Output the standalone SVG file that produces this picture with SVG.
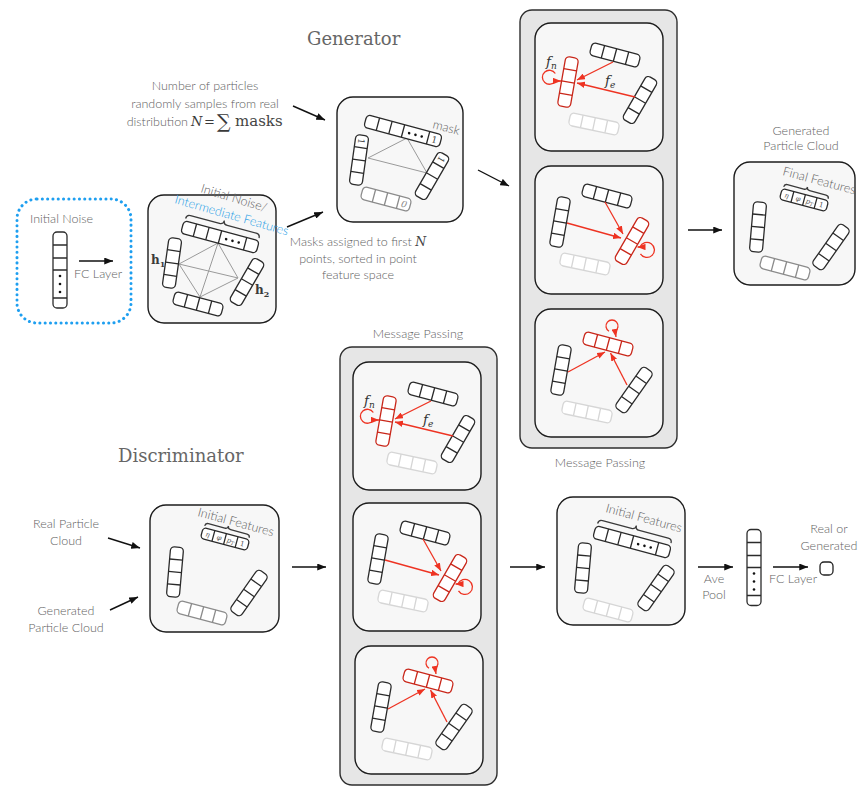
<svg xmlns="http://www.w3.org/2000/svg" xmlns:xlink="http://www.w3.org/1999/xlink" width="860" height="787" viewBox="0 0 860 787">
<style>
.box{fill:#f7f7f7;stroke:#1c1c1c;stroke-width:1.4}
.panel{fill:#e6e6e6;stroke:#2e2e2e;stroke-width:1.4}
.lbl{font-family:Lato,"Open Sans",sans-serif;font-weight:300;font-size:12.5px;fill:#626262}
.ttl{font-family:"DejaVu Serif","Liberation Serif",serif;font-size:18px;fill:#666}
.math{font-family:"DejaVu Serif","Liberation Serif",serif;fill:#3a3a3a}
.cell{font-family:"DejaVu Serif","Liberation Serif",serif;font-size:9px;fill:#444;text-anchor:middle;stroke:none}
.vk{stroke:#2b2b2b;stroke-width:1.3}
.vr{stroke:#c9271a;stroke-width:1.3}
.vf{stroke:#d6d6d6;stroke-width:1.3}
.vg{stroke:#8c8c8c;stroke-width:1.3}
.conn{fill:none;stroke:#111;stroke-width:1.4;marker-end:url(#ah)}
.ra{fill:none;stroke:#ee3322;stroke-width:1.3;marker-end:url(#rah)}
.edge{stroke:#9a9a9a;stroke-width:1}
.brace{fill:none;stroke:#3a3a3a;stroke-width:1.3}
.fl{font-family:"DejaVu Serif","Liberation Serif",serif;font-style:italic;font-size:13.5px;fill:#333}
</style>
<defs>
  <marker id="ah" viewBox="0 0 10 8" refX="10" refY="4" markerWidth="9" markerHeight="7" markerUnits="userSpaceOnUse" orient="auto"><path d="M0,0 L10,4 L0,8 Z" fill="#111"/></marker>
  <marker id="rah" viewBox="0 0 10 8" refX="10" refY="4" markerWidth="8" markerHeight="6.5" markerUnits="userSpaceOnUse" orient="auto"><path d="M0,0 L10,4 L0,8 Z" fill="#ee3322"/></marker>

  <!-- four-cell particle feature vector, centred on the origin -->
  <g id="v4"><rect x="-25" y="-6.5" width="50" height="13" rx="4" fill="#fff"/><path d="M-12.5,-6.5V6.5M0,-6.5V6.5M12.5,-6.5V6.5" fill="none"/></g>
  <!-- long feature vector with ellipsis cell -->
  <g id="v6"><rect x="-39" y="-6.5" width="78" height="13" rx="4" fill="#fff"/><path d="M-26,-6.5V6.5M-13,-6.5V6.5M0,-6.5V6.5M26,-6.5V6.5" fill="none"/><g fill="#111" stroke="none"><circle cx="6.5" cy="0.5" r="1.3"/><circle cx="13" cy="0.5" r="1.3"/><circle cx="19.5" cy="0.5" r="1.3"/></g></g>
  <!-- small vector of input features -->
  <g id="vs"><rect x="-24" y="-5.5" width="48" height="11" rx="3.5" fill="#fff"/><path d="M-12,-5.5V5.5M0,-5.5V5.5M12,-5.5V5.5" fill="none"/>
    <g font-family="'DejaVu Serif','Liberation Serif',serif" font-style="italic" font-size="7" fill="#555" stroke="none" text-anchor="middle"><text x="-18" y="2.5">η</text><text x="-6" y="2.5">φ</text><text x="6" y="2.5">p<tspan font-size="5" dy="1.5">T</tspan></text><text x="18" y="2.5" font-style="normal">1</text></g></g>
  <!-- column vector with ellipsis -->
  <g id="vcol"><rect x="-7" y="-38" width="14" height="76" rx="4" fill="#fff"/><path d="M-7,-25H7M-7,-12H7M-7,0H7M-7,28H7" fill="none"/><g fill="#111" stroke="none"><circle cx="0" cy="6" r="1.3"/><circle cx="0" cy="14" r="1.3"/><circle cx="0" cy="22" r="1.3"/></g></g>
  <path id="br6" class="brace" d="M-38,-9 q0,-4 4,-4 h30 q4,0 4,-4 q0,4 4,4 h30 q4,0 4,4"/>
  <path id="brs" class="brace" d="M-23,-7.5 q0,-3 3,-3 h17 q3,0 3,-3 q0,3 3,3 h17 q3,0 3,3"/>

  <!-- message passing step 1: update of the left particle -->
  <g id="mp1">
    <rect class="box" width="128" height="128" rx="16"/>
    <use href="#v4" class="vf" transform="translate(59,101) rotate(12)"/>
    <use href="#v4" class="vk" transform="translate(80,32) rotate(15)"/>
    <use href="#v4" class="vk" transform="translate(105,77) rotate(120)"/>
    <use href="#v4" class="vr" transform="translate(33,59) rotate(100)"/>
    <path class="ra" d="M78,39 L42,57"/>
    <path class="ra" d="M100,74 L42,60"/>
    <path class="ra" d="M20.3,50.5 A7,7 0 1 0 20.3,58 L26,58"/>
    <text class="fl" x="11" y="43">f<tspan font-size="9" dy="3">n</tspan></text>
    <text class="fl" x="70" y="62">f<tspan font-size="9" dy="3">e</tspan></text>
  </g>
  <!-- message passing step 2: update of the right particle -->
  <g id="mp2">
    <rect class="box" width="128" height="128" rx="16"/>
    <use href="#v4" class="vf" transform="translate(50,98) rotate(12)"/>
    <use href="#v4" class="vk" transform="translate(72,30) rotate(15)"/>
    <use href="#v4" class="vk" transform="translate(25,56) rotate(100)"/>
    <use href="#v4" class="vr" transform="translate(97,75) rotate(120)"/>
    <path class="ra" d="M32,57 L86,72"/>
    <path class="ra" d="M70,36 L88,68"/>
    <path class="ra" d="M105.5,87.8 A7.5,7.5 0 1 0 105,81 L102.5,81"/>
  </g>
  <!-- message passing step 3: update of the top particle -->
  <g id="mp3">
    <rect class="box" width="128" height="128" rx="16"/>
    <use href="#v4" class="vf" transform="translate(52,103) rotate(12)"/>
    <use href="#v4" class="vk" transform="translate(26,61) rotate(100)"/>
    <use href="#v4" class="vk" transform="translate(99,81) rotate(125)"/>
    <use href="#v4" class="vr" transform="translate(73,35) rotate(15)"/>
    <path class="ra" d="M33,63 L70,43"/>
    <path class="ra" d="M92,76 L75.5,44"/>
    <path class="ra" d="M74,22.2 A6,6 0 1 1 80,22.2 L81,28"/>
  </g>
</defs>

<!-- Headings -->
<text class="ttl" x="307" y="45">Generator</text>
<text class="ttl" x="118" y="462">Discriminator</text>

<!-- Generator: noise input -->
<g id="noise-input">
  <rect x="17" y="199" width="114" height="124" rx="20" fill="none" stroke="#1e9ff0" stroke-width="3" stroke-linecap="round" stroke-dasharray="0.1 5.2"/>
  <text class="lbl" x="30" y="223">Initial Noise</text>
  <use href="#vcol" class="vk" transform="translate(60,270)"/>
  <text class="lbl" x="74" y="278">FC Layer</text>
</g>

<!-- Generator: initial / intermediate particle cloud -->
<g id="noise-cloud">
  <g transform="translate(148,195)">
    <rect class="box" width="128" height="128" rx="16"/>
    <g class="edge">
      <line x1="70" y1="48" x2="31" y2="69"/><line x1="70" y1="48" x2="90" y2="83"/><line x1="70" y1="48" x2="52" y2="102"/>
      <line x1="31" y1="69" x2="90" y2="83"/><line x1="31" y1="69" x2="52" y2="102"/><line x1="90" y1="83" x2="52" y2="102"/>
    </g>
    <g transform="translate(72,42) rotate(15)"><use href="#v6" class="vk"/><use href="#br6"/></g>
    <use href="#v4" class="vk" transform="translate(24,68) rotate(98)"/>
    <use href="#v4" class="vk" transform="translate(99,87) rotate(120)"/>
    <use href="#v4" class="vk" transform="translate(50,109) rotate(15)"/>
  </g>
  <text class="lbl" x="200" y="192" font-size="12" transform="rotate(17 200 192)">Initial Noise/</text>
  <text class="lbl" x="174" y="203" font-size="12" style="fill:#1f9de6" transform="rotate(16 174 203)">Intermediate Features</text>
  <text class="math" x="151" y="264" font-weight="bold" font-size="12">h<tspan font-size="8" dy="3">1</tspan></text>
  <text class="math" x="255" y="294" font-weight="bold" font-size="12">h<tspan font-size="8" dy="3">2</tspan></text>
</g>

<!-- Generator: masking of the point cloud -->
<g id="mask-cloud">
  <text class="lbl" x="205" y="90" text-anchor="middle">Number of particles</text>
  <text class="lbl" x="205" y="108" text-anchor="middle">randomly samples from real</text>
  <text class="lbl" x="188" y="126" text-anchor="end">distribution</text>
  <text class="math" x="191" y="126" font-size="13" font-style="italic">N</text>
  <text class="math" x="204" y="126" font-size="13">=</text>
  <text class="math" x="217" y="128" font-size="19">∑</text>
  <text class="math" x="235" y="126" font-size="15" style="fill:#444">masks</text>

  <g transform="translate(337,97)">
    <rect class="box" width="126" height="125" rx="16"/>
    <g class="edge"><line x1="70" y1="41" x2="31" y2="61"/><line x1="70" y1="41" x2="90" y2="76"/><line x1="31" y1="61" x2="90" y2="76"/></g>
    <g transform="translate(66,34) rotate(15)"><use href="#v6" class="vk"/><text class="cell" x="32.5" y="3.5">1</text></g>
    <g transform="translate(22,63) rotate(98)"><use href="#v4" class="vk"/><text class="cell" x="-18.75" y="3.5">1</text></g>
    <g transform="translate(95,79) rotate(120)"><use href="#v4" class="vk"/><text class="cell" x="-18.75" y="3.5">1</text></g>
    <g transform="translate(49,102) rotate(15)"><use href="#v4" class="vg"/><text class="cell" x="18.75" y="3.5" font-style="italic" style="fill:#888">0</text></g>
  </g>
  <text class="lbl" x="432" y="128" font-size="11" transform="rotate(15 432 128)">mask</text>

  <text class="lbl" x="358" y="246" text-anchor="middle">Masks assigned to first <tspan font-family="'DejaVu Serif','Liberation Serif',serif" font-style="italic" fill="#444">N</tspan></text>
  <text class="lbl" x="358" y="263" text-anchor="middle">points, sorted in point</text>
  <text class="lbl" x="358" y="279" text-anchor="middle">feature space</text>
</g>

<!-- Generator: message passing column -->
<g id="gen-mp">
  <rect class="panel" x="520" y="10" width="157" height="438" rx="12"/>
  <use id="gen-mp-1" href="#mp1" transform="translate(535,23)"/>
  <use id="gen-mp-2" href="#mp2" transform="translate(535,166)"/>
  <use id="gen-mp-3" href="#mp3" transform="translate(535,309)"/>
  <text class="lbl" x="600" y="467" text-anchor="middle">Message Passing</text>
</g>

<!-- Generator: output cloud -->
<g id="gen-output">
  <text class="lbl" x="801" y="135" text-anchor="middle">Generated</text>
  <text class="lbl" x="801" y="150" text-anchor="middle">Particle Cloud</text>
  <g transform="translate(734,162)">
    <rect class="box" width="121" height="123" rx="16"/>
    <g transform="translate(70,38) rotate(15)"><use href="#vs" class="vk"/><use href="#brs"/></g>
    <use href="#v4" class="vk" transform="translate(24,65) rotate(95)"/>
    <use href="#v4" class="vk" transform="translate(97,85) rotate(125)"/>
    <use href="#v4" class="vg" transform="translate(51,106) rotate(15)"/>
  </g>
  <text class="lbl" x="782" y="175" font-size="12" transform="rotate(15 782 175)">Final Features</text>
</g>

<!-- Discriminator: inputs -->
<g id="disc-input">
  <text class="lbl" x="66" y="528" text-anchor="middle">Real Particle</text>
  <text class="lbl" x="66" y="545" text-anchor="middle">Cloud</text>
  <text class="lbl" x="66" y="615" text-anchor="middle">Generated</text>
  <text class="lbl" x="66" y="632" text-anchor="middle">Particle Cloud</text>
  <g transform="translate(150,505)">
    <rect class="box" width="129" height="127" rx="16"/>
    <g transform="translate(75,34) rotate(15)"><use href="#vs" class="vk"/><use href="#brs"/></g>
    <use href="#v4" class="vk" transform="translate(25,67) rotate(95)"/>
    <use href="#v4" class="vk" transform="translate(99,88) rotate(125)"/>
    <use href="#v4" class="vg" transform="translate(52,108) rotate(15)"/>
  </g>
  <text class="lbl" x="197" y="516" font-size="11.5" transform="rotate(15 197 516)">Initial Features</text>
</g>

<!-- Discriminator: message passing column -->
<g id="disc-mp">
  <text class="lbl" x="418" y="338" text-anchor="middle">Message Passing</text>
  <rect class="panel" x="340" y="347" width="157" height="438" rx="12"/>
  <use id="disc-mp-1" href="#mp1" transform="translate(353,362)"/>
  <use id="disc-mp-2" href="#mp2" transform="translate(353,503)"/>
  <use id="disc-mp-3" href="#mp3" transform="translate(355,646)"/>
</g>

<!-- Discriminator: updated features -->
<g id="disc-features">
  <g transform="translate(557,497)">
    <rect class="box" width="128" height="128" rx="16"/>
    <g transform="translate(75,45) rotate(15)"><use href="#v6" class="vk"/><use href="#br6"/></g>
    <use href="#v4" class="vk" transform="translate(26,71) rotate(95)"/>
    <use href="#v4" class="vk" transform="translate(99,91) rotate(125)"/>
    <use href="#v4" class="vf" transform="translate(51,113) rotate(15)"/>
  </g>
  <text class="lbl" x="605" y="512" font-size="11.5" transform="rotate(15 605 512)">Initial Features</text>
</g>

<!-- Discriminator: pooling and output -->
<g id="pool-vector">
  <text class="lbl" x="714" y="583" text-anchor="middle">Ave</text>
  <text class="lbl" x="714" y="599" text-anchor="middle">Pool</text>
  <use href="#vcol" class="vk" transform="translate(754,567.5)"/>
  <text class="lbl" x="793" y="583" text-anchor="middle">FC Layer</text>
</g>
<g id="output-node">
  <text class="lbl" x="829" y="533" text-anchor="middle">Real or</text>
  <text class="lbl" x="829" y="550" text-anchor="middle">Generated</text>
  <rect x="820" y="562" width="13" height="13" rx="4" fill="#fff" stroke="#222" stroke-width="1.3"/>
</g>

<!-- Connectors -->
<g id="connectors">
  <path class="conn" d="M79,261 H113"/>
  <path class="conn" d="M293,106 L325,120"/>
  <path class="conn" d="M287,227 L323,212"/>
  <path class="conn" d="M478,170 L509,186"/>
  <path class="conn" d="M688,230 H722"/>
  <path class="conn" d="M108,538 L140,548"/>
  <path class="conn" d="M110,610 L138,597"/>
  <path class="conn" d="M292,567 H326"/>
  <path class="conn" d="M510,567 H545"/>
  <path class="conn" d="M698,567 H733"/>
  <path class="conn" d="M773,567 H808"/>
</g>
</svg>
